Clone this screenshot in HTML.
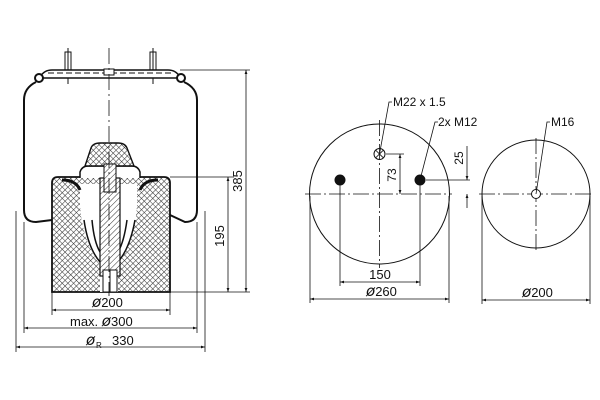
<!DOCTYPE html>
<html><head><meta charset="utf-8"><style>
html,body{margin:0;padding:0;background:#fff;}
svg{display:block;}
text{font-family:"Liberation Sans",sans-serif;fill:#111;}
.d{font-family:"DejaVu Sans",sans-serif;font-style:italic;font-size:15px;}
</style></head><body>
<svg width="600" height="400" viewBox="0 0 600 400" xmlns="http://www.w3.org/2000/svg">
<defs>
<pattern id="xh" width="4" height="4" patternUnits="userSpaceOnUse" patternTransform="rotate(45)">
<rect width="4" height="4" fill="#fff"/>
<path d="M0 0H4M0 0V4" stroke="#333" stroke-width="1.1"/>
</pattern>
<pattern id="hh" width="4" height="4" patternUnits="userSpaceOnUse" patternTransform="rotate(45)">
<rect width="4" height="4" fill="#fff"/>
<path d="M0 0V4" stroke="#333" stroke-width="1"/>
</pattern>
<marker id="a" viewBox="0 0 10 10" refX="10" refY="5" markerWidth="7" markerHeight="5" orient="auto-start-reverse">
<path d="M0 1.5L10 5L0 8.5z" fill="#111"/>
</marker>
</defs>
<g fill="none" stroke="#111" stroke-width="1">
<rect x="65" y="52" width="6" height="20" fill="#fff"/>
<rect x="150" y="52" width="6" height="20" fill="#fff"/>
<line x1="68" y1="48" x2="68" y2="84"/><line x1="153" y1="48" x2="153" y2="84"/>
<path d="M40 77 Q44 70 52 70 L168 70 Q176 70 180 77 L176 78 L44 78 Z" fill="#fff" stroke-width="1.5"/>
<line x1="48" y1="73" x2="172" y2="73" stroke-dasharray="6 3"/>
<circle cx="39" cy="78" r="4" fill="#fff" stroke-width="2"/>
<circle cx="181" cy="78" r="4" fill="#fff" stroke-width="2"/>
<rect x="104" y="69" width="10" height="6" fill="#fff"/>
<path d="M36 82 Q24 88 24 100 L24 210 Q24 222 36 222 L52 220" stroke-width="2"/>
<path d="M184 82 Q197 88 197 100 L197 210 Q197 222 185 222 L170 215" stroke-width="2"/>
<path d="M52 292 L52 183 Q52 177 58 177 L164 177 Q170 177 170 183 L170 292 Z" fill="url(#xh)" stroke-width="1.8"/>
<path d="M80 184 L137 184 L137 205 Q135 240 118 265 L118 292 L100 292 L100 265 Q82 240 80 205 Z" fill="#fff" stroke="none"/>
<path d="M62 180 Q76 180 80 190" stroke-width="3"/>
<path d="M158 180 Q144 180 140 190" stroke-width="3"/>
<path d="M84 220 Q88 248 100 262 M92 220 Q94 242 100 252 M135 220 Q130 248 118 262 M127 220 Q124 242 118 252" stroke-width="1.5"/>
<path d="M80 178 L80 172 Q82 166 88 166 L132 166 Q138 166 140 172 L140 178" fill="#fff" stroke-width="1.5"/>
<path d="M85 166 L91 148 Q93 143 100 143 L118 143 Q125 143 127 148 L134 166 Z" fill="url(#xh)" stroke-width="1.4"/>
<rect x="100" y="178" width="20" height="98" fill="url(#hh)" stroke-width="1.2"/>
<rect x="104" y="164" width="12" height="28" fill="url(#hh)"/>
<rect x="103" y="270" width="14" height="22" fill="#fff"/>
<line x1="110" y1="270" x2="110" y2="292"/>
<line x1="109" y1="48" x2="109" y2="296" stroke-dasharray="16 4 2 4" stroke-width="0.8"/>
<line x1="180" y1="70" x2="250" y2="70" stroke-width="0.8"/>
<line x1="170" y1="177" x2="234" y2="177" stroke-width="0.8"/>
<line x1="170" y1="292" x2="250" y2="292" stroke-width="0.8"/>
<line x1="246" y1="70" x2="246" y2="292" marker-start="url(#a)" marker-end="url(#a)" stroke-width="0.8"/>
<line x1="228" y1="177" x2="228" y2="292" marker-start="url(#a)" marker-end="url(#a)" stroke-width="0.8"/>
<line x1="52" y1="292" x2="52" y2="315" stroke-width="0.8"/>
<line x1="170" y1="292" x2="170" y2="315" stroke-width="0.8"/>
<line x1="24" y1="222" x2="24" y2="333" stroke-width="0.8"/>
<line x1="197" y1="222" x2="197" y2="333" stroke-width="0.8"/>
<line x1="16" y1="211" x2="16" y2="352" stroke-width="0.8"/>
<line x1="205" y1="211" x2="205" y2="352" stroke-width="0.8"/>
<line x1="52" y1="310" x2="170" y2="310" marker-start="url(#a)" marker-end="url(#a)" stroke-width="0.8"/>
<line x1="24" y1="328" x2="197" y2="328" marker-start="url(#a)" marker-end="url(#a)" stroke-width="0.8"/>
<line x1="16" y1="347" x2="205" y2="347" marker-start="url(#a)" marker-end="url(#a)" stroke-width="0.8"/>

<circle cx="379.5" cy="194" r="70"/>
<line x1="305" y1="194" x2="452" y2="194" stroke-dasharray="16 3 2 3" stroke-width="0.8"/>
<line x1="379.5" y1="120" x2="379.5" y2="268" stroke-dasharray="16 3 2 3" stroke-width="0.8"/>
<circle cx="340" cy="180" r="5" fill="#111"/>
<circle cx="420" cy="180" r="5" fill="#111"/>
<circle cx="379.5" cy="154" r="5.5"/>
<path d="M375.6 150.1L383.4 157.9M383.4 150.1L375.6 157.9" stroke-width="0.8"/>
<path d="M379.5 154 L389 102 L392 102" stroke-width="0.8"/>
<path d="M420 180 L435 122 L438 122" stroke-width="0.8"/>
<line x1="386" y1="154" x2="404" y2="154" stroke-width="0.8"/>
<line x1="400" y1="154" x2="400" y2="194" marker-start="url(#a)" marker-end="url(#a)" stroke-width="0.8"/>
<line x1="426" y1="180" x2="470" y2="180" stroke-width="0.8"/>
<line x1="467" y1="146" x2="467" y2="180" marker-end="url(#a)" stroke-width="0.8"/>
<line x1="467" y1="208" x2="467" y2="194" marker-end="url(#a)" stroke-width="0.8"/>
<line x1="340" y1="185" x2="340" y2="286" stroke-width="0.8"/>
<line x1="420" y1="185" x2="420" y2="286" stroke-width="0.8"/>
<line x1="340" y1="282" x2="420" y2="282" marker-start="url(#a)" marker-end="url(#a)" stroke-width="0.8"/>
<line x1="310" y1="196" x2="310" y2="303" stroke-width="0.8"/>
<line x1="449" y1="196" x2="449" y2="303" stroke-width="0.8"/>
<line x1="310" y1="299" x2="449" y2="299" marker-start="url(#a)" marker-end="url(#a)" stroke-width="0.8"/>

<circle cx="536" cy="194" r="54"/>
<line x1="479" y1="194" x2="594" y2="194" stroke-dasharray="16 3 2 3" stroke-width="0.8"/>
<line x1="536" y1="138" x2="536" y2="250" stroke-dasharray="16 3 2 3" stroke-width="0.8"/>
<circle cx="536" cy="194" r="4.5" fill="#fff"/>
<path d="M536 194 L547 122 L550 122" stroke-width="0.8"/>
<line x1="482" y1="196" x2="482" y2="304" stroke-width="0.8"/>
<line x1="590" y1="196" x2="590" y2="304" stroke-width="0.8"/>
<line x1="482" y1="300" x2="590" y2="300" marker-start="url(#a)" marker-end="url(#a)" stroke-width="0.8"/>
</g>
<g font-size="13">
<text x="242" y="181" transform="rotate(-90 242 181)" text-anchor="middle">385</text>
<text x="224" y="236" transform="rotate(-90 224 236)" text-anchor="middle">195</text>
<text x="92" y="307"><tspan class="d">ø</tspan>200</text>
<text x="70" y="326">max. <tspan class="d">ø</tspan>300</text>
<text x="86" y="345" class="d">ø</text><text x="96" y="348" font-size="8">R</text>
<text x="112" y="345">330</text>
<text x="393" y="106" font-size="12">M22 x 1.5</text>
<text x="438" y="126" font-size="12">2x M12</text>
<text x="551" y="126" font-size="12">M16</text>
<text x="396" y="175" font-size="12" transform="rotate(-90 396 175)" text-anchor="middle">73</text>
<text x="463" y="158" font-size="12" transform="rotate(-90 463 158)" text-anchor="middle">25</text>
<text x="380" y="279" text-anchor="middle">150</text>
<text x="366" y="296"><tspan class="d">ø</tspan>260</text>
<text x="522" y="297"><tspan class="d">ø</tspan>200</text>
</g>
</svg>
</body></html>
